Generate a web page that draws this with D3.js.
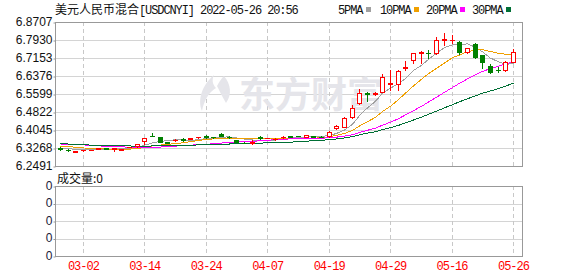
<!DOCTYPE html>
<html>
<head>
<meta charset="utf-8">
<script src="https://cdn.jsdelivr.net/npm/d3@7"></script>
<style>
  html, body { margin: 0; padding: 0; background: #fff; }
  svg { display: block; }
</style>
</head>
<body>
<div id="chart"></div>
<script>
// trading days shown (2022)
const dates = ['02-25','02-28','03-01','03-02','03-03','03-04','03-07','03-08','03-09','03-10',
  '03-11','03-14','03-15','03-16','03-17','03-18','03-21','03-22','03-23','03-24',
  '03-25','03-28','03-29','03-30','03-31','04-01','04-06','04-07','04-08','04-11',
  '04-12','04-13','04-14','04-15','04-18','04-19','04-20','04-21','04-22','04-25',
  '04-26','04-27','04-28','04-29','05-05','05-06','05-09','05-10','05-11','05-12',
  '05-13','05-16','05-17','05-18','05-19','05-20','05-23','05-24','05-25','05-26'];
const tickDates = ['03-02','03-14','03-24','04-07','04-19','04-29','05-16','05-26'];

const open = [6.3268,6.3200,6.3100,6.3170,6.3185,6.3245,6.3265,6.3230,6.3180,6.3300,
  6.3340,6.3570,6.3790,6.3743,6.3520,6.3600,6.3640,6.3670,6.3725,6.3790,
  6.3730,6.3872,6.3760,6.3610,6.3500,6.3490,6.3750,6.3690,6.3640,6.3740,
  6.3790,6.3790,6.3740,6.3770,6.3760,6.3765,6.4110,6.4196,6.4606,6.5211,
  6.5650,6.5610,6.5698,6.6030,6.6031,6.6700,6.7067,6.7369,6.7380,6.7356,
  6.7940,6.7920,6.7857,6.7399,6.7745,6.7283,6.6808,6.6650,6.6635,6.6994];
const high = [6.3300,6.3230,6.3160,6.3200,6.3200,6.3275,6.3280,6.3270,6.3230,6.3320,
  6.3460,6.3710,6.3900,6.3750,6.3530,6.3640,6.3690,6.3700,6.3760,6.3810,
  6.3740,6.3900,6.3786,6.3620,6.3510,6.3620,6.3770,6.3710,6.3680,6.3780,
  6.3800,6.3800,6.3830,6.3780,6.3770,6.4002,6.4261,6.4585,6.5124,6.5802,
  6.5700,6.5685,6.6462,6.6635,6.6635,6.7037,6.7369,6.7468,6.7498,6.8073,
  6.8220,6.8146,6.7900,6.7590,6.7800,6.7290,6.6880,6.6778,6.7037,6.7541];
const low = [6.3195,6.3150,6.3080,6.3160,6.3170,6.3240,6.3230,6.3160,6.3170,6.3290,
  6.3330,6.3430,6.3775,6.3520,6.3480,6.3570,6.3560,6.3640,6.3690,6.3700,
  6.3715,6.3780,6.3680,6.3520,6.3470,6.3460,6.3670,6.3680,6.3620,6.3720,
  6.3730,6.3770,6.3730,6.3740,6.3740,6.3743,6.4088,6.4175,6.4563,6.5167,
  6.5310,6.5560,6.5685,6.5772,6.5772,6.6635,6.6950,6.6924,6.7140,6.7340,
  6.7714,6.7788,6.7313,6.7390,6.7170,6.6734,6.6520,6.6562,6.6605,6.6980];
const close = [6.3225,6.3170,6.3140,6.3185,6.3190,6.3260,6.3245,6.3250,6.3215,6.3310,
  6.3450,6.3700,6.3780,6.3527,6.3495,6.3613,6.3630,6.3680,6.3743,6.3730,
  6.3725,6.3790,6.3750,6.3530,6.3480,6.3527,6.3680,6.3695,6.3656,6.3750,
  6.3740,6.3780,6.3820,6.3750,6.3750,6.3946,6.4218,6.4550,6.4994,6.5629,
  6.5620,6.5630,6.6320,6.6070,6.6592,6.6743,6.7356,6.7412,6.7360,6.7930,
  6.7960,6.7935,6.7425,6.7572,6.7183,6.6994,6.6562,6.6635,6.6994,6.7425];

const ma5 = [6.3260,6.3240,6.3210,6.3190,6.3182,6.3189,6.3204,6.3226,6.3232,6.3256,
  6.3294,6.3385,6.3491,6.3553,6.3590,6.3623,6.3609,6.3589,6.3632,6.3679,
  6.3702,6.3734,6.3748,6.3705,6.3655,6.3615,6.3593,6.3582,6.3608,6.3662,
  6.3704,6.3724,6.3749,6.3768,6.3768,6.3809,6.3897,6.4043,6.4292,6.4667,
  6.5002,6.5285,6.5639,6.5854,6.6046,6.6271,6.6616,6.6835,6.7093,6.7360,
  6.7604,6.7719,6.7722,6.7764,6.7615,6.7422,6.7147,6.6989,6.6874,6.6922];
const ma10 = [6.3340,6.3330,6.3300,6.3270,6.3250,6.3235,6.3225,6.3222,6.3220,6.3219,
  6.3242,6.3295,6.3359,6.3393,6.3423,6.3459,6.3497,6.3540,6.3593,6.3635,
  6.3662,6.3671,6.3668,6.3669,6.3667,6.3659,6.3664,6.3665,6.3656,6.3658,
  6.3660,6.3659,6.3666,6.3688,6.3715,6.3757,6.3811,6.3896,6.4030,6.4218,
  6.4406,6.4591,6.4841,6.5073,6.5357,6.5637,6.5950,6.6237,6.6473,6.6703,
  6.6937,6.7168,6.7278,6.7429,6.7488,6.7513,6.7433,6.7356,6.7319,6.7269];
const ma20 = [6.3440,6.3440,6.3430,6.3400,6.3380,6.3360,6.3340,6.3330,6.3320,6.3300,
  6.3300,6.3300,6.3300,6.3310,6.3330,6.3350,6.3370,6.3390,6.3410,6.3427,
  6.3452,6.3483,6.3513,6.3531,6.3545,6.3559,6.3580,6.3603,6.3625,6.3647,
  6.3661,6.3665,6.3667,6.3678,6.3691,6.3708,6.3737,6.3781,6.3843,6.3938,
  6.4033,6.4125,6.4253,6.4380,6.4536,6.4697,6.4881,6.5066,6.5252,6.5461,
  6.5672,6.5879,6.6060,6.6251,6.6422,6.6575,6.6692,6.6796,6.6896,6.6986];
const ma30 = [6.3445,6.3440,6.3430,6.3420,6.3385,6.3375,6.3370,6.3365,6.3360,6.3355,
  6.3350,6.3350,6.3355,6.3360,6.3365,6.3375,6.3380,6.3390,6.3400,6.3410,
  6.3420,6.3430,6.3440,6.3450,6.3460,6.3470,6.3480,6.3490,6.3497,6.3504,
  6.3521,6.3542,6.3564,6.3583,6.3602,6.3625,6.3657,6.3700,6.3760,6.3837,
  6.3909,6.3974,6.4058,6.4143,6.4246,6.4351,6.4475,6.4599,6.4720,6.4860,
  6.5001,6.5139,6.5262,6.5396,6.5520,6.5635,6.5731,6.5829,6.5941,6.6063];

const priceTicks = [6.8707,6.7930,6.7153,6.6376,6.5599,6.4822,6.4045,6.3268,6.2491];
const volTicks = ['0','0','0','0','0'];
const maNames = ['5PMA','10PMA','20PMA','30PMA'];
const maColors = ['#a0a0a0','#f0a000','#ff00ff','#006f35'];

const width = 578, height = 276;
const main = {left: 55, right: 522, top: 22, bottom: 166};
const vol = {top: 186, bottom: 256};
const UP = '#ff0000', DOWN = '#008000';
const monoFont = '"Liberation Mono", "DejaVu Sans Mono", monospace';
const cjkFont = '"Noto Sans CJK SC", "Noto Sans", sans-serif';

const svg = d3.select('#chart').append('svg')
  .attr('width', width)
  .attr('height', height);

const x = d3.scaleBand().domain(dates).range([56.5, 517.3]);
const col = d => Math.round(x(d) + x.bandwidth() / 2 - 0.5);   // pixel column of candle centre
const y = d3.scaleLinear().domain([6.2491, 6.8707]).range([main.bottom, main.top]);
const yv = d3.scalePoint().domain(d3.range(volTicks.length)).range([vol.top, vol.bottom]);

// horizontal grid
svg.append('g').selectAll('line').data(priceTicks).enter().append('line')
  .attr('x1', main.left).attr('x2', main.right)
  .attr('y1', d => Math.round(y(d)) + 0.5).attr('y2', d => Math.round(y(d)) + 0.5)
  .attr('stroke', '#d4d4d4');
svg.append('g').selectAll('line').data(volTicks.map((d, i) => i)).enter().append('line')
  .attr('x1', main.left).attr('x2', main.right)
  .attr('y1', d => Math.round(yv(d)) + 0.5).attr('y2', d => Math.round(yv(d)) + 0.5)
  .attr('stroke', '#d4d4d4');

// dashed vertical grid on the labelled days
[[main.top, main.bottom], [vol.top, vol.bottom]].forEach(([t, b]) => {
  svg.append('g').selectAll('line').data(tickDates).enter().append('line')
    .attr('x1', d => col(d) + 0.5).attr('x2', d => col(d) + 0.5)
    .attr('y1', t).attr('y2', b)
    .attr('stroke', '#c8c8c8')
    .attr('stroke-dasharray', '4,3');
});

// watermark
const wm = svg.append('g').attr('fill', '#e5e5ea');
wm.append('path').attr('d', 'M214,75 C203,84 197,99 202,111 C204,101 208,93 216,88 C212,84 212,79 214,75 Z');
wm.append('path').attr('d', 'M224,76 C231,84 232,95 226,103 C222,96 219,90 217,86 C219,82 221,79 224,76 Z');
wm.append('text')
  .attr('x', 239).attr('y', 108)
  .style('font-family', cjkFont).style('font-size', '36px').style('font-weight', 'bold')
  .text('东方财富');

// frames
[[main.top, main.bottom], [vol.top, vol.bottom]].forEach(([t, b]) => {
  svg.append('rect')
    .attr('x', main.left + 0.5).attr('y', t + 0.5)
    .attr('width', main.right - main.left).attr('height', b - t)
    .attr('fill', 'none').attr('stroke', '#999');
});

// price axis
const yAxis = d3.axisLeft(y).tickValues(priceTicks).tickFormat(d3.format('.4f')).tickSize(2).tickPadding(1);
svg.append('g')
  .attr('transform', `translate(${main.left + 0.5},0.5)`)
  .call(yAxis)
  .call(g => g.select('.domain').remove())
  .call(g => g.selectAll('line').attr('stroke', '#999'))
  .call(g => g.selectAll('text').attr('dy', '0.22em').attr('fill', '#111')
    .style('font-family', '"Liberation Sans", Arial, sans-serif').style('font-size', '12px'));

// volume axis (all zero)
const vAxis = d3.axisLeft(yv).tickFormat(i => volTicks[i]).tickSize(2).tickPadding(1);
svg.append('g')
  .attr('transform', `translate(${main.left + 0.5},0.5)`)
  .call(vAxis)
  .call(g => g.select('.domain').remove())
  .call(g => g.selectAll('line').attr('stroke', '#999'))
  .call(g => g.selectAll('text').attr('dy', '0.22em').attr('fill', '#1a1a3a')
    .style('font-family', '"Liberation Sans", Arial, sans-serif').style('font-size', '12px'));

// date axis
const xAxis = d3.axisBottom(x).tickValues(tickDates).tickSize(0).tickPadding(5.5);
svg.append('g')
  .attr('transform', `translate(0,${vol.bottom})`)
  .call(xAxis)
  .call(g => g.select('.domain').remove())
  .call(g => g.selectAll('text').attr('fill', '#ff0000')
    .style('font-family', monoFont).style('font-size', '12px').style('letter-spacing', '-1px'));

// moving averages
const mas = [ma5, ma10, ma20, ma30];
mas.forEach((arr, k) => {
  const line = d3.line()
    .x((v, i) => col(dates[i]) + 0.5)
    .y(v => y(v));
  svg.append('path')
    .datum(arr)
    .attr('d', line)
    .attr('fill', 'none')
    .attr('stroke', maColors[k])
    .attr('stroke-width', 1)
    .attr('shape-rendering', 'crispEdges');
});

// candles
const candles = dates.map((d, i) => ({d, o: open[i], h: high[i], l: low[i], c: close[i]}));
const cg = svg.append('g').attr('shape-rendering', 'crispEdges');
candles.forEach(k => {
  const c = col(k.d);
  const up = k.c >= k.o;
  const color = up ? UP : DOWN;
  const yTop = Math.round(y(Math.max(k.o, k.c)));
  const yBot = Math.round(y(Math.min(k.o, k.c)));
  const yH = Math.round(y(k.h));
  const yL = Math.round(y(k.l));
  // wick
  cg.append('line')
    .attr('x1', c + 0.5).attr('x2', c + 0.5)
    .attr('y1', yH).attr('y2', yL + 1)
    .attr('stroke', color);
  if (yBot - yTop < 1) {
    cg.append('line')
      .attr('x1', c - 2).attr('x2', c + 3)
      .attr('y1', yTop + 0.5).attr('y2', yTop + 0.5)
      .attr('stroke', color);
  } else if (up) {
    cg.append('rect')
      .attr('x', c - 1.5).attr('y', yTop + 0.5)
      .attr('width', 4).attr('height', yBot - yTop)
      .attr('fill', '#fff').attr('stroke', color);
  } else {
    cg.append('rect')
      .attr('x', c - 2).attr('y', yTop)
      .attr('width', 5).attr('height', yBot - yTop + 1)
      .attr('fill', color);
  }
});

// title
const title = svg.append('text').attr('x', 55).attr('y', 14).attr('fill', '#111');
title.append('tspan').style('font-family', cjkFont).style('font-size', '12px').text('美元人民币混合');
title.append('tspan').style('font-family', monoFont).style('font-size', '12px').style('letter-spacing', '-1.1px')
  .text('[USDCNYI] 2022-05-26 20:56');

// legend
const legendX = [338, 380, 426, 472];
const lg = svg.append('g');
maNames.forEach((name, k) => {
  const t = lg.append('text')
    .attr('x', legendX[k]).attr('y', 13.5)
    .attr('fill', '#111')
    .style('font-family', monoFont).style('font-size', '12px').style('letter-spacing', '-1.1px')
    .text(name);
  lg.append('rect')
    .attr('x', legendX[k] + name.length * 6 + 4).attr('y', 7)
    .attr('width', 5).attr('height', 5)
    .attr('fill', maColors[k]);
});

// volume caption
svg.append('text')
  .attr('x', 57).attr('y', 183)
  .attr('fill', '#111')
  .style('font-family', cjkFont).style('font-size', '12px')
  .text('成交量:0');
</script>
</body>
</html>
